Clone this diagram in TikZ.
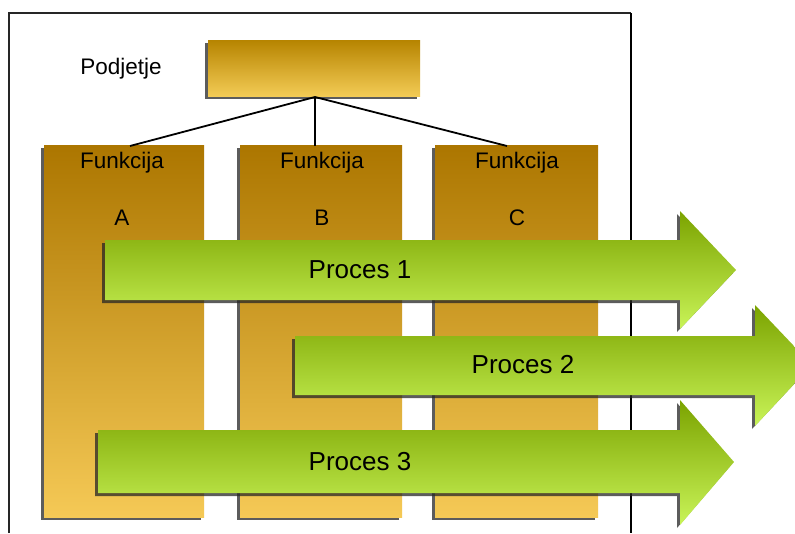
\documentclass[tikz,border=0pt]{standalone}
\usepackage{fontspec}
\setmainfont{Liberation Sans}
\usetikzlibrary{shadows}
\definecolor{goldtop}{HTML}{AC7600}
\definecolor{goldbot}{HTML}{F5C956}
\definecolor{headtop}{HTML}{B68400}
\definecolor{headbot}{HTML}{F3CB55}
\definecolor{greentop}{HTML}{7BA300}
\definecolor{greenbot}{HTML}{C9F458}
\tikzset{
  boxshadow/.style={drop shadow={shadow xshift=-3pt, shadow yshift=-3pt, fill=black!85, opacity=0.75}},
  funcbox/.style={boxshadow, top color=goldtop, bottom color=goldbot, draw=none},
  headbox/.style={boxshadow, top color=headtop, bottom color=headbot, draw=none},
  procshape/.style={boxshadow, top color=greentop, bottom color=greenbot, draw=none},
  linkline/.style={line width=1.8pt, black},
  frameline/.style={line width=1.5pt, black!85},
  lbl/.style={font=\fontsize{22.5}{26}\selectfont, text=black, inner sep=0pt},
  proclbl/.style={font=\fontsize{26}{30}\selectfont, text=black, inner sep=0pt},
}
\begin{document}
\begin{tikzpicture}[x=1pt, y=-1pt]
\useasboundingbox (0,0) rectangle (795,533);
\clip (0,0) rectangle (795,533);
\fill[white] (0,0) rectangle (795,533);

% outer frame, open at the bottom
\draw[frameline] (9,533) -- (9,13) -- (631,13);
\draw[line width=2.2pt] (631,13) -- (631,533);

% company box
\path[headbox] (208,40) rectangle (420,96);
\coordinate (hub) at (315,97);
\node[lbl] (podjetje) at (121,69) {Podjetje};

% function columns
\path[funcbox] (44,145) rectangle (204,517);
\path[funcbox] (240,145) rectangle (402,517);
\path[funcbox] (435,145) rectangle (598,517);
\coordinate (topA) at (130,146);
\coordinate (topB) at (315,146);
\coordinate (topC) at (507,146);
\draw[linkline] (hub) -- (topA);
\draw[linkline] (hub) -- (topB);
\draw[linkline] (hub) -- (topC);

\node[lbl] (fa) at (122,163) {Funkcija};
\node[lbl] (fb) at (322,163) {Funkcija};
\node[lbl] (fc) at (517,163) {Funkcija};
\node[lbl] (la) at (122,218) {A};
\node[lbl] (lb) at (322,218) {B};
\node[lbl] (lc) at (517,218) {C};

% process arrows
\path[procshape] (105,240) -- (680,240) -- (680,211) -- (736,270) -- (680,329)
  -- (680,300) -- (105,300) -- cycle;
\path[procshape] (295,336) -- (755,336) -- (755,305) -- (812,365) -- (755,426)
  -- (755,395) -- (295,395) -- cycle;
\path[procshape] (98,430) -- (680,430) -- (680,400) -- (734,462) -- (680,525)
  -- (680,493) -- (98,493) -- cycle;

\node[proclbl] (p1) at (360,270) {Proces 1};
\node[proclbl] (p2) at (523,365) {Proces 2};
\node[proclbl] (p3) at (360,462) {Proces 3};
\end{tikzpicture}
\end{document}
